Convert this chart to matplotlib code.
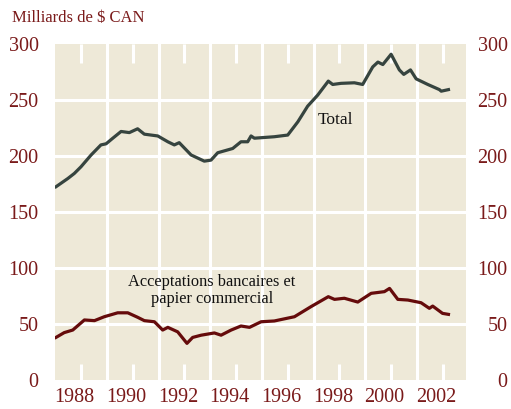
import matplotlib.pyplot as plt
import matplotlib.transforms as mtransforms

# Values (decimal years, billions CAD)
total_years = [1987.03, 1987.49, 1987.74, 1988.0, 1988.39, 1988.77, 1988.97, 1989.23,
               1989.55, 1989.87, 1990.19, 1990.45, 1990.97, 1991.36, 1991.61, 1991.8,
               1992.26, 1992.77, 1993.03, 1993.29, 1993.87, 1994.19, 1994.45, 1994.58,
               1994.71, 1995.48, 1996.0, 1996.39, 1996.77, 1997.16, 1997.57, 1997.74,
               1998.06, 1998.58, 1998.9, 1999.29, 1999.49, 1999.68, 2000.0, 2000.32,
               2000.49, 2000.75, 2000.97, 2001.42, 2001.87, 2001.94, 2002.22]
total = [172.6, 180, 184.5, 190.5, 201, 210, 211, 216,
         222, 221, 224.4, 219.6, 218, 212.8, 210, 212,
         201, 195.5, 196.4, 203, 206.8, 212.8, 212.8, 218,
         216, 217.3, 218.8, 230.6, 244.6, 254.5, 267, 264,
         265, 265.5, 264, 279.7, 284, 281.8, 291, 277,
         273, 277, 269, 264, 259.4, 258, 259.4]

bapc_years = [1987.03, 1987.35, 1987.68, 1988.13, 1988.52, 1988.9, 1989.42, 1989.81,
              1990.19, 1990.45, 1990.84, 1991.16, 1991.36, 1991.74, 1992.1, 1992.32,
              1992.65, 1993.16, 1993.42, 1993.81, 1994.19, 1994.52, 1994.97, 1995.48,
              1996.26, 1996.9, 1997.57, 1997.81, 1998.19, 1998.71, 1999.23, 1999.74,
              1999.94, 2000.26, 2000.65, 2001.16, 2001.48, 2001.61, 2001.99, 2002.22]
bapc = [38, 42.3, 44.6, 53.6, 53, 56.5, 60, 60,
        56, 53, 52, 44.6, 47, 43, 32.7, 38,
        40, 42, 40, 44.6, 48.2, 47, 52, 52.7,
        56.5, 65.5, 74.4, 72, 73, 69.6, 77.4, 78.9,
        81.8, 72, 71.4, 69, 64, 66, 59.5, 58.6]

year_ticks = [1988, 1990, 1992, 1994, 1996, 1998, 2000, 2002]
grid_years = [1989, 1991, 1993, 1995, 1997, 1999, 2001]
y_ticks = [0, 50, 100, 150, 200, 250, 300]

red = '#7a1a1a'
plt.rcParams['font.family'] = ['Liberation Serif', 'DejaVu Serif']

fig = plt.figure(figsize=(5.11, 4.09), dpi=100)
ax = fig.add_axes([0.108, 0.071, 0.804, 0.821])
ax.set_facecolor('#eee9d8')
for s in ax.spines.values():
    s.set_visible(False)

ax.set_xlim(1987.0, 2002.9)
ax.set_ylim(0, 300)

# white grid
for g in grid_years:
    ax.axvline(g, color='white', lw=2.2, zorder=1)
for v in y_ticks[1:-1]:
    ax.axhline(v, color='white', lw=2.2, zorder=1)
# short white ticks at top and bottom
for t in year_ticks:
    ax.plot([t, t], [300, 283], color='white', lw=2.2, zorder=1, solid_capstyle='butt')
    ax.plot([t, t], [0, 14], color='white', lw=2.2, zorder=1, solid_capstyle='butt')

ax.plot(total_years, total, color='#36443f', lw=2.3, zorder=3)
ax.plot(bapc_years, bapc, color='#650b0b', lw=2.3, zorder=3)

ax.set_xticks(year_ticks)
ax.set_xticklabels([str(y) for y in year_ticks])
ax.set_yticks(y_ticks)
ax.tick_params(axis='both', length=0, colors=red, labelsize=14.5)
ax.tick_params(axis='x', pad=6)
ax.tick_params(axis='y', pad=12)
shift = mtransforms.ScaledTranslation(-6.5 / 100, 0, fig.dpi_scale_trans)
for lab in ax.get_xticklabels():
    lab.set_transform(lab.get_transform() + shift)

ax2 = ax.twinx()
ax2.set_ylim(0, 300)
ax2.set_yticks(y_ticks)
for s in ax2.spines.values():
    s.set_visible(False)
ax2.tick_params(axis='y', length=0, colors=red, labelsize=14.5, pad=30)
for lab in ax2.get_yticklabels():
    lab.set_horizontalalignment('right')

fig.text(0.024, 0.955, 'Milliards de $ CAN', color=red, fontsize=12, va='center')

ax.text(1997.85, 232, 'Total', fontsize=12.5, color='#111111', ha='center', va='center')
ax.text(1993.07, 80, 'Acceptations bancaires et\npapier commercial', fontsize=11.8,
        color='#111111', ha='center', va='center', linespacing=1.1)

fig.savefig('out.png', dpi=100)
